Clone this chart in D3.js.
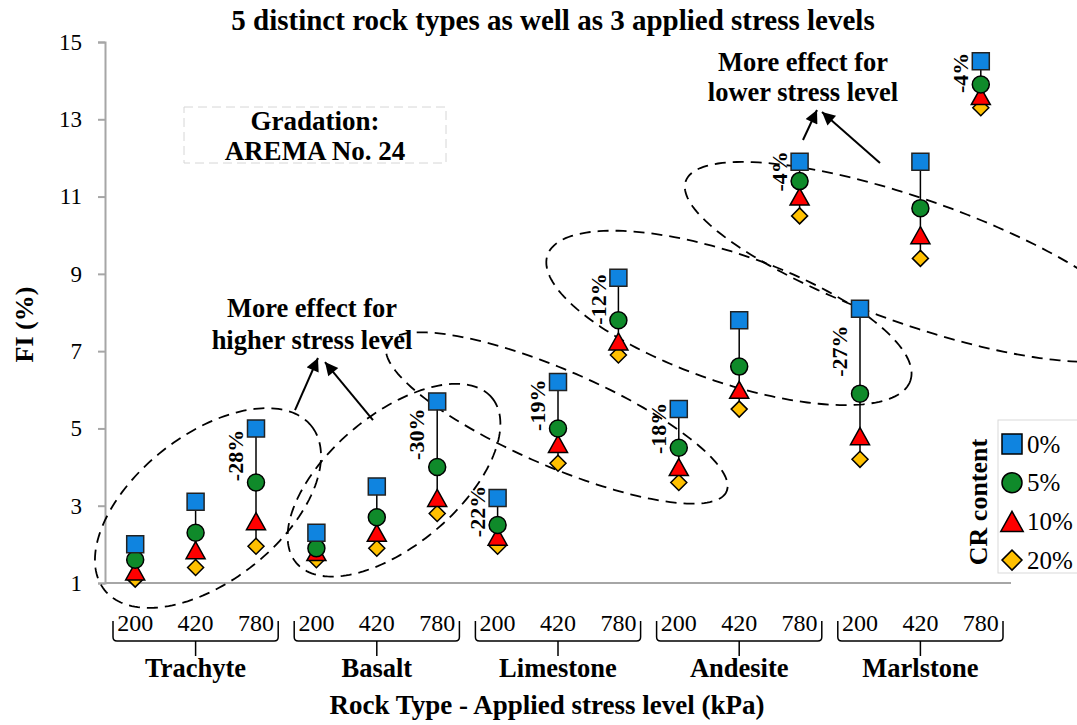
<!DOCTYPE html>
<html>
<head>
<meta charset="utf-8">
<script src="https://cdn.jsdelivr.net/npm/d3@7/dist/d3.min.js"></script>
<style>
  body { margin: 0; background: #fff; }
  svg text { font-family: "Liberation Serif", "Times New Roman", Tinos, "DejaVu Serif", serif; fill: #000; }
</style>
</head>
<body>
<div id="chart"></div>
<script>
// data
const rocks = ["Trachyte", "Basalt", "Limestone", "Andesite", "Marlstone"];
const stresses = ["200", "420", "780"];
const crLevels = ["0%", "5%", "10%", "20%"];
const fi0  = [2.0, 3.1, 5.0,  2.3, 3.5, 5.7,  3.2, 6.2, 8.9,   5.5, 7.8, 11.9,  8.1, 11.9, 14.5];
const fi5  = [1.6, 2.3, 3.6,  1.9, 2.7, 4.0,  2.5, 5.0, 7.8,   4.5, 6.6, 11.4,  5.9, 10.7, 13.9];
const fi10 = [1.3, 1.85, 2.6, 1.8, 2.3, 3.2,  2.2, 4.6, 7.25,  4.0, 6.0, 11.0,  4.8, 10.0, 13.6];
const fi20 = [1.1, 1.4, 1.95, 1.6, 1.9, 2.8,  1.95, 4.1, 6.9,  3.6, 5.5, 10.5,  4.2, 9.4, 13.3];
const changeIdx = [2, 5, 6, 7, 8, 9, 11, 12, 14];
const changeText = ["-28%", "-30%", "-22%", "-19%", "-12%", "-18%", "-4%", "-27%", "-4%"];
const yTicks = [1, 3, 5, 7, 9, 11, 13, 15];

const width = 1077, height = 725;
const plotLeft = 105, plotRight = 1011, plotTop = 42, plotBottom = 583;
const serif = '"Liberation Serif", "Times New Roman", Tinos, "DejaVu Serif", serif';

const svg = d3.select("#chart").append("svg")
  .attr("width", width).attr("height", height)
  .attr("font-family", serif);

const cats = d3.range(rocks.length * stresses.length);
const x = d3.scaleBand().domain(cats).range([plotLeft, plotRight]);
const xc = d3.scaleLinear().domain([-0.5, cats.length - 0.5]).range([plotLeft, plotRight]);
const y = d3.scaleLinear().domain([1, 15]).range([plotBottom, plotTop]);

// title
svg.append("text")
  .attr("x", 553).attr("y", 30)
  .attr("text-anchor", "middle")
  .style("font-weight", "bold").style("font-size", "29px")
  .text("5 distinct rock types as well as 3 applied stress levels");

// y axis
const yAxis = svg.append("g")
  .attr("transform", `translate(${plotLeft},0)`)
  .call(d3.axisLeft(y).tickValues(yTicks).tickSize(7).tickPadding(16))
  .attr("font-family", serif);
yAxis.select(".domain").attr("stroke", "#a6a6a6").attr("stroke-width", 2);
yAxis.selectAll(".tick line").attr("stroke", "#a6a6a6").attr("stroke-width", 2);
yAxis.selectAll(".tick text")
  .style("font-size", "23px").attr("fill", "#000");

svg.append("text")
  .attr("transform", `translate(33,${(plotTop + plotBottom) / 2 + 12}) rotate(-90)`)
  .attr("text-anchor", "middle")
  .style("font-weight", "bold").style("font-size", "26px")
  .text("FI (%)");

// x axis line
svg.append("line")
  .attr("x1", plotLeft).attr("x2", plotRight).attr("y1", plotBottom).attr("y2", plotBottom)
  .attr("stroke", "#a6a6a6").attr("stroke-width", 2);

// stress labels
svg.append("g").selectAll("text")
  .data(cats).enter()
  .append("text")
    .attr("x", (d) => x(d) + x.bandwidth() / 2)
    .attr("y", 631)
    .attr("text-anchor", "middle")
    .style("font-size", "24px")
    .text((d) => stresses[d % 3]);

// braces + rock names
const groupW = x.bandwidth() * 3;
const braces = svg.append("g").selectAll("g")
  .data(rocks).enter()
  .append("g");

braces.append("path")
  .attr("d", (d, i) => {
    const x0 = x(i * 3) + 8, x1 = x(i * 3) + groupW - 8, xm = x(i * 3) + groupW / 2;
    return `M${x0},621 L${x0},637 Q${x0},641 ${x0 + 4},641 L${x1 - 4},641 Q${x1},641 ${x1},637 L${x1},621`
      + ` M${xm},641 L${xm},656`;
  })
  .attr("fill", "none").attr("stroke", "#000").attr("stroke-width", 1.5);

braces.append("text")
  .attr("x", (d, i) => x(i * 3) + groupW / 2)
  .attr("y", 677)
  .attr("text-anchor", "middle")
  .style("font-weight", "bold").style("font-size", "26.5px")
  .text((d) => d);

svg.append("text")
  .attr("x", 547).attr("y", 714)
  .attr("text-anchor", "middle")
  .style("font-weight", "bold").style("font-size", "27px")
  .text("Rock Type - Applied stress level (kPa)");

// gradation box
svg.append("rect")
  .attr("x", 184).attr("y", 107).attr("width", 262).attr("height", 56)
  .attr("fill", "none").attr("stroke", "#d6d6d6").attr("stroke-dasharray", "9 5");
svg.append("text")
  .attr("x", 315).attr("y", 130).attr("text-anchor", "middle")
  .style("font-weight", "bold").style("font-size", "27px")
  .text("Gradation:");
svg.append("text")
  .attr("x", 315).attr("y", 160).attr("text-anchor", "middle")
  .style("font-weight", "bold").style("font-size", "27px")
  .text("AREMA No. 24");

// ellipses (centre in data space, radii in px)
const ellipses = [
  { c: 1.205, v: 2.94, rx: 132, ry: 73, rot: -38.3 },
  { c: 4.285, v: 3.66, rx: 128, ry: 65, rot: -40.2 },
  { c: 6.98,  v: 5.27, rx: 185, ry: 48, rot: 23.4 },
  { c: 9.83,  v: 7.86, rx: 192, ry: 64, rot: 19.1 },
  { c: 12.91, v: 9.31, rx: 243, ry: 62.5, rot: 19.4 }
];
const ellipseLine = d3.line().curve(d3.curveLinearClosed);
svg.append("g").selectAll("path")
  .data(ellipses).enter()
  .append("path")
    .attr("d", (e) => {
      const cx = xc(e.c), cy = y(e.v), a = e.rot * Math.PI / 180;
      const pts = d3.range(0, 2 * Math.PI, Math.PI / 90).map((t) => [
        cx + e.rx * Math.cos(t) * Math.cos(a) - e.ry * Math.sin(t) * Math.sin(a),
        cy + e.rx * Math.cos(t) * Math.sin(a) + e.ry * Math.sin(t) * Math.cos(a)
      ]);
      return ellipseLine(pts);
    })
    .attr("fill", "none").attr("stroke", "#000")
    .attr("stroke-width", 1.8).attr("stroke-dasharray", "11 7");

// arrows
svg.append("defs").append("marker")
  .attr("id", "head").attr("viewBox", "0 0 10 10")
  .attr("refX", 10).attr("refY", 5)
  .attr("markerUnits", "userSpaceOnUse")
  .attr("orient", "auto")
  .attr("markerWidth", 15).attr("markerHeight", 13)
  .append("path").attr("d", "M0,0 L10,5 L0,10 Z").attr("fill", "#000");

const arrows = [
  [[2.646, 5.476], [3.026, 6.822]],
  [[3.937, 5.217], [3.142, 6.718]],
  [[11.056, 12.464], [11.288, 13.24]],
  [[12.331, 11.869], [11.371, 13.188]]
];
svg.append("g").selectAll("line")
  .data(arrows).enter()
  .append("line")
    .attr("x1", (d) => xc(d[0][0])).attr("y1", (d) => y(d[0][1]))
    .attr("x2", (d) => xc(d[1][0])).attr("y2", (d) => y(d[1][1]))
    .attr("stroke", "#000").attr("stroke-width", 2)
    .attr("marker-end", "url(#head)");

const notes = [
  { c: 2.927, v: 8.116, t: "More effect for" },
  { c: 2.927, v: 7.288, t: "higher stress level" },
  { c: 11.056, v: 14.48, t: "More effect for" },
  { c: 11.056, v: 13.71, t: "lower stress level" }
];
svg.append("g").selectAll("text")
  .data(notes).enter()
  .append("text")
    .attr("x", (d) => xc(d.c)).attr("y", (d) => y(d.v))
    .attr("dy", "0.33em")
    .attr("text-anchor", "middle")
    .style("font-weight", "bold").style("font-size", "26.5px")
    .text((d) => d.t);

// connectors
svg.append("g").selectAll("line")
  .data(cats).enter()
  .append("line")
    .attr("x1", (d) => xc(d)).attr("x2", (d) => xc(d))
    .attr("y1", (d) => y(fi0[d])).attr("y2", (d) => y(fi20[d]))
    .attr("stroke", "#000").attr("stroke-width", 1.5);

// markers
const colors = ["#0f84e0", "#0f8a2a", "#ff0000", "#ffc000"];
const shapes = [
  (s) => `M${-s / 2},${-s / 2}h${s}v${s}h${-s}Z`,
  (s) => { const r = s / 2; return `M${r},0A${r},${r} 0 1,1 ${-r},0A${r},${r} 0 1,1 ${r},0Z`; },
  (s) => `M0,${-s * 0.5}L${s * 0.56},${s * 0.5}L${-s * 0.56},${s * 0.5}Z`,
  (s) => `M0,${-s * 0.5}L${s * 0.5},0L0,${s * 0.5}L${-s * 0.5},0Z`
];
const series = [fi0, fi5, fi10, fi20];
const sizes = [17, 17, 17, 16];

// draw bottom series first so squares sit on top
[3, 2, 1, 0].forEach((k) => {
  svg.append("g").selectAll("path")
    .data(cats).enter()
    .append("path")
      .attr("transform", (d) => `translate(${xc(d)},${y(series[k][d])})`)
      .attr("d", shapes[k](sizes[k]))
      .attr("fill", colors[k])
      .attr("stroke", k === 0 ? "#222" : "#000").attr("stroke-width", 1.5);
});

// change labels
svg.append("g").selectAll("text")
  .data(changeIdx).enter()
  .append("text")
    .attr("transform", (d) => `translate(${xc(d) - 20},${(y(fi0[d]) + y(fi5[d])) / 2}) rotate(-90)`)
    .attr("dy", "0.33em")
    .attr("text-anchor", "middle")
    .style("font-weight", "bold").style("font-size", "22px")
    .text((d, i) => changeText[i]);

// legend
const legend = svg.append("g");
legend.append("rect")
  .attr("x", 998).attr("y", 420).attr("width", 90).attr("height", 153)
  .attr("fill", "#fff").attr("stroke", "#d9d9d9");
legend.append("text")
  .attr("transform", "translate(978,502) rotate(-90)")
  .attr("dy", "0.33em")
  .attr("text-anchor", "middle")
  .style("font-weight", "bold").style("font-size", "26px")
  .text("CR content");
const items = legend.selectAll(".item")
  .data(crLevels).enter()
  .append("g")
    .attr("transform", (d, i) => `translate(1012,${444 + i * 38.7})`);
items.append("path")
  .attr("d", (d, i) => shapes[i](20))
  .attr("fill", (d, i) => colors[i])
  .attr("stroke", "#000").attr("stroke-width", 1.5);
items.append("text")
  .attr("x", 15).attr("dy", "0.35em")
  .style("font-size", "25px")
  .text((d) => d);
</script>
</body>
</html>
